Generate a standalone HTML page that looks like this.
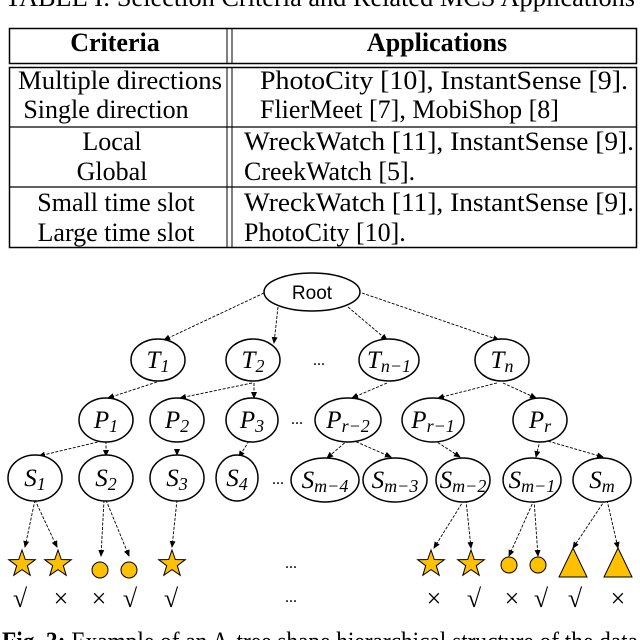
<!DOCTYPE html>
<html><head><meta charset="utf-8"><style>
body{margin:0;background:#fff;}
svg{display:block;}
.t{font-family:"Liberation Serif",serif;font-size:26px;fill:#000;}
.m{font-family:"Liberation Serif",serif;font-style:italic;font-size:25px;fill:#000;}
.s{font-size:18px;}
.e{fill:#fff;stroke:#000;stroke-width:1.5;}
.l{stroke:#000;stroke-width:0.9;stroke-dasharray:3,1.5;fill:none;marker-end:url(#a);}
.y{fill:#FFC000;stroke:#000;stroke-width:1;}
</style></head><body>
<svg width="640" height="640" viewBox="0 0 640 640" xmlns="http://www.w3.org/2000/svg">
<defs><marker id="a" markerWidth="8" markerHeight="8" refX="6" refY="3" orient="auto" markerUnits="userSpaceOnUse"><path d="M0,0 L7,3 L0,6 z" fill="#000"/></marker>
<polygon id="st" points="0,-14 3.3,-4.5 13.3,-4.3 5.3,1.7 8.2,11.3 0,5.6 -8.2,11.3 -5.3,1.7 -13.3,-4.3 -3.3,-4.5"/></defs>
<text class="t" x="320" y="6" text-anchor="middle" textLength="630" lengthAdjust="spacingAndGlyphs">TABLE I:  Selection Criteria and Related MCS Applications</text>
<rect x="9.5" y="28.5" width="627" height="35" fill="none" stroke="#000" stroke-width="1.5"/>
<rect x="9.5" y="67.5" width="627" height="180" fill="none" stroke="#000" stroke-width="1.5"/>
<line x1="227" y1="28" x2="227" y2="64" stroke="#000"/><line x1="232" y1="28" x2="232" y2="64" stroke="#000"/>
<line x1="227" y1="67" x2="227" y2="248" stroke="#000"/><line x1="232" y1="67" x2="232" y2="248" stroke="#000"/>
<line x1="9" y1="127" x2="637" y2="127" stroke="#000" stroke-width="1.3"/>
<line x1="9" y1="187" x2="637" y2="187" stroke="#000" stroke-width="1.3"/>
<text class="t" x="115" y="51" text-anchor="middle" font-weight="bold">Criteria</text>
<text class="t" x="437" y="51" text-anchor="middle" font-weight="bold">Applications</text>
<g class="t" text-anchor="middle">
<text x="120" y="89" textLength="204" lengthAdjust="spacingAndGlyphs">Multiple directions</text>
<text x="106" y="118">Single direction</text>
<text x="112" y="150">Local</text>
<text x="112" y="180">Global</text>
<text x="116" y="211">Small time slot</text>
<text x="116" y="241">Large time slot</text>
</g>
<g class="t">
<text x="260" y="89" textLength="368" lengthAdjust="spacingAndGlyphs">PhotoCity [10], InstantSense [9].</text>
<text x="260" y="118">FlierMeet [7], MobiShop [8]</text>
<text x="244" y="150" textLength="390" lengthAdjust="spacingAndGlyphs">WreckWatch [11], InstantSense [9].</text>
<text x="244" y="180">CreekWatch [5].</text>
<text x="244" y="211" textLength="390" lengthAdjust="spacingAndGlyphs">WreckWatch [11], InstantSense [9].</text>
<text x="244" y="241">PhotoCity [10].</text>
</g>
<g class="l">
<path d="M264,293 L164,340"/><path d="M278,307 L274,343"/><path d="M348,307 L387,340"/><path d="M362,293 L499,340"/>
<path d="M157,382 L108,398"/><path d="M252,383 L180,398"/><path d="M254,383 L254,398"/><path d="M387,383 L352,398"/><path d="M497,383 L438,398"/><path d="M503,383 L536,398"/>
<path d="M102,441 L39,456"/><path d="M106,441 L106,456"/><path d="M177,450 L177,455"/><path d="M249,441 L239,457"/><path d="M348,440 L327,458"/><path d="M352,440 L391,457"/><path d="M434,440 L460,457"/><path d="M540,440 L536,457"/><path d="M544,440 L603,457"/>
<path d="M35,500 L25,547"/><path d="M35,500 L57,547"/><path d="M104,500 L101,556"/><path d="M106,500 L129,556"/><path d="M177,500 L172,547"/>
<path d="M464,500 L434,548"/><path d="M466,500 L471,548"/><path d="M534,500 L509,556"/><path d="M534,500 L538,556"/><path d="M605,500 L573,548"/><path d="M607,500 L618,548"/>
</g>
<ellipse class="e" cx="312" cy="292" rx="48" ry="19"/>
<text x="312" y="299" font-family="Liberation Sans,sans-serif" font-size="19" text-anchor="middle">Root</text>
<g class="e">
<ellipse cx="158" cy="360" rx="27" ry="21"/><ellipse cx="253" cy="360" rx="27" ry="21"/><ellipse cx="389" cy="360" rx="30" ry="21"/><ellipse cx="502" cy="360" rx="27" ry="21"/>
<ellipse cx="106" cy="420" rx="27" ry="22"/><ellipse cx="177" cy="420" rx="27" ry="22"/><ellipse cx="252" cy="420" rx="26" ry="22"/><ellipse cx="348" cy="420" rx="33" ry="22"/><ellipse cx="433" cy="420" rx="31" ry="22"/><ellipse cx="540" cy="420" rx="27" ry="22"/>
<ellipse cx="35" cy="478" rx="27" ry="23"/><ellipse cx="106" cy="478" rx="27" ry="23"/><ellipse cx="177" cy="478" rx="27" ry="23"/><ellipse cx="237" cy="478" rx="21" ry="23"/><ellipse cx="325" cy="480" rx="34" ry="22"/><ellipse cx="395" cy="480" rx="32" ry="22"/><ellipse cx="463" cy="480" rx="27" ry="22"/><ellipse cx="532" cy="480" rx="29" ry="22"/><ellipse cx="602" cy="480" rx="29" ry="22"/>
</g>
<g class="m" text-anchor="middle">
<text x="158" y="368">T<tspan class="s" dy="4">1</tspan></text>
<text x="253" y="368">T<tspan class="s" dy="4">2</tspan></text>
<text x="389" y="368">T<tspan class="s" dy="4">n−1</tspan></text>
<text x="502" y="368">T<tspan class="s" dy="4">n</tspan></text>
<text x="106" y="428">P<tspan class="s" dy="4">1</tspan></text>
<text x="177" y="428">P<tspan class="s" dy="4">2</tspan></text>
<text x="252" y="428">P<tspan class="s" dy="4">3</tspan></text>
<text x="348" y="428">P<tspan class="s" dy="4">r−2</tspan></text>
<text x="433" y="428">P<tspan class="s" dy="4">r−1</tspan></text>
<text x="540" y="428">P<tspan class="s" dy="4">r</tspan></text>
<text x="35" y="486">S<tspan class="s" dy="4">1</tspan></text>
<text x="106" y="486">S<tspan class="s" dy="4">2</tspan></text>
<text x="177" y="486">S<tspan class="s" dy="4">3</tspan></text>
<text x="237" y="486">S<tspan class="s" dy="4">4</tspan></text>
<text x="325" y="488">S<tspan class="s" dy="4">m−4</tspan></text>
<text x="395" y="488">S<tspan class="s" dy="4">m−3</tspan></text>
<text x="463" y="488">S<tspan class="s" dy="4">m−2</tspan></text>
<text x="532" y="488">S<tspan class="s" dy="4">m−1</tspan></text>
<text x="602" y="488">S<tspan class="s" dy="4">m</tspan></text>
</g>
<g font-family="Liberation Serif,serif" font-size="16" text-anchor="middle">
<text x="319" y="365">...</text><text x="297" y="424">...</text><text x="278" y="484">...</text>
<text x="291" y="568">...</text><text x="291" y="602">...</text>
</g>
<use href="#st" x="22" y="564" class="y"/><use href="#st" x="58" y="564" class="y"/>
<circle cx="100" cy="570" r="8" class="y"/><circle cx="129" cy="570" r="8" class="y"/>
<use href="#st" x="172" y="564" class="y"/>
<use href="#st" x="431" y="564" class="y"/><use href="#st" x="471" y="564" class="y"/>
<circle cx="509" cy="565" r="8" class="y"/><circle cx="538" cy="565" r="8" class="y"/>
<polygon points="573,548 587,577 559,577" class="y"/><polygon points="618,548 632,577 604,577" class="y"/>
<g class="t" font-size="23" text-anchor="middle">
<text x="20" y="607">√</text><text x="61" y="607">×</text><text x="99" y="607">×</text><text x="130" y="607">√</text><text x="171" y="607">√</text>
<text x="434" y="607">×</text><text x="474" y="607">√</text><text x="512" y="607">×</text><text x="541" y="607">√</text><text x="575" y="607">√</text><text x="618" y="607">×</text>
</g>
<text class="t" x="2" y="650" font-size="25" textLength="636" lengthAdjust="spacingAndGlyphs"><tspan font-weight="bold">Fig. 3:</tspan> Example of an A-tree shape hierarchical structure of the data</text>
</svg>
</body></html>
